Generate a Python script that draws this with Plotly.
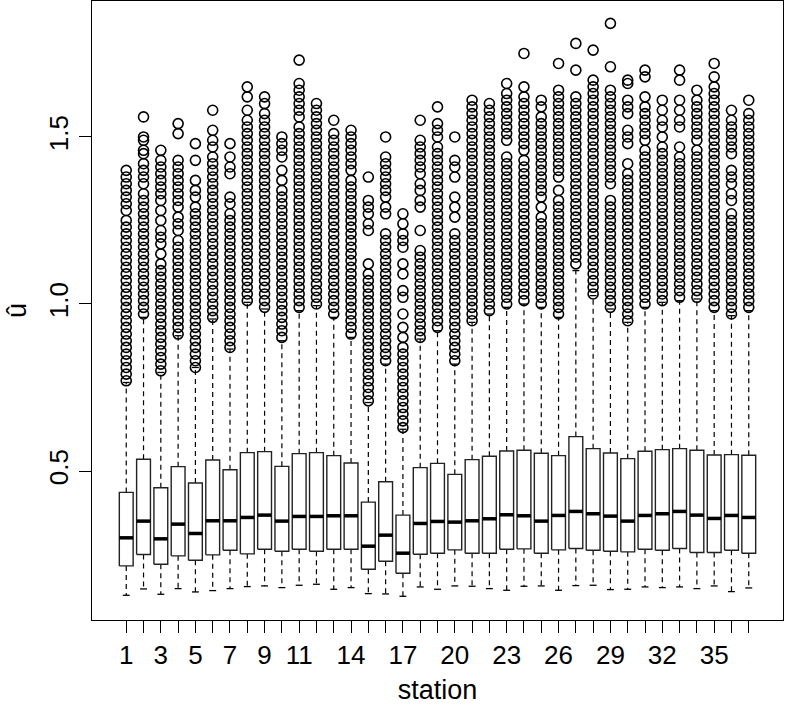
import plotly.graph_objects as go

stations = list(range(1, 38))
tick_labels = ["1", "", "3", "", "5", "", "7", "", "9", "", "11", "", "", "14", "", "", "17", "", "",
               "20", "", "", "23", "", "", "26", "", "", "29", "", "", "32", "", "", "35", "", ""]

q1 = [0.216, 0.250, 0.221, 0.246, 0.233, 0.249, 0.263, 0.252, 0.266, 0.260,
      0.266, 0.260, 0.266, 0.266, 0.206, 0.230, 0.194, 0.251, 0.254, 0.264,
      0.254, 0.254, 0.266, 0.267, 0.254, 0.264, 0.268, 0.263, 0.260, 0.258,
      0.266, 0.263, 0.268, 0.256, 0.256, 0.263, 0.254]
median = [0.300, 0.350, 0.297, 0.341, 0.313, 0.351, 0.351, 0.361, 0.368, 0.350,
          0.364, 0.364, 0.366, 0.366, 0.275, 0.308, 0.254, 0.343, 0.349, 0.347,
          0.351, 0.357, 0.369, 0.366, 0.350, 0.367, 0.379, 0.372, 0.365, 0.350,
          0.367, 0.372, 0.379, 0.368, 0.358, 0.367, 0.361]
q3 = [0.436, 0.535, 0.450, 0.513, 0.464, 0.533, 0.504, 0.555, 0.558, 0.514,
      0.552, 0.555, 0.546, 0.524, 0.407, 0.468, 0.368, 0.510, 0.523, 0.490,
      0.534, 0.544, 0.560, 0.562, 0.553, 0.546, 0.603, 0.567, 0.554, 0.537,
      0.559, 0.564, 0.567, 0.562, 0.548, 0.549, 0.547]
lower_whisker = [0.128, 0.147, 0.131, 0.148, 0.138, 0.142, 0.148, 0.154, 0.156, 0.151,
                 0.158, 0.161, 0.146, 0.151, 0.133, 0.132, 0.125, 0.153, 0.146, 0.156,
                 0.155, 0.148, 0.143, 0.155, 0.156, 0.143, 0.157, 0.158, 0.145, 0.146,
                 0.153, 0.151, 0.153, 0.148, 0.156, 0.139, 0.150]
upper_whisker = [0.765, 0.960, 0.795, 0.905, 0.810, 0.955, 0.865, 1.005, 0.985, 0.890,
                 0.980, 0.995, 0.960, 0.900, 0.705, 0.820, 0.625, 0.895, 0.920, 0.820,
                 0.945, 0.970, 0.990, 1.000, 0.990, 0.960, 1.100, 1.025, 0.985, 0.945,
                 0.990, 1.005, 1.010, 1.015, 0.980, 0.965, 0.980]

out01 = [0.77,0.79,0.81,0.83,0.85,0.87,0.89,0.91,0.93,0.95,0.97,0.99,1.01,1.03,1.05,1.07,1.09,1.11,1.13,1.15,1.17,1.19,1.21,1.23,1.25,1.28,1.30,1.32,1.34,1.36,1.38,1.40]
out02 = [0.97,0.99,1.01,1.03,1.05,1.07,1.09,1.11,1.13,1.15,1.17,1.19,1.21,1.23,1.25,1.27,1.29,1.31,1.33,1.36,1.38,1.40,1.42,1.45,1.46,1.49,1.50,1.56]
out03 = [0.80,0.82,0.84,0.86,0.88,0.90,0.92,0.94,0.96,0.98,1.00,1.02,1.04,1.06,1.08,1.10,1.12,1.15,1.18,1.20,1.22,1.25,1.28,1.31,1.33,1.35,1.37,1.39,1.41,1.43,1.46]
out04 = [0.91,0.93,0.95,0.97,0.99,1.01,1.03,1.05,1.07,1.09,1.11,1.13,1.15,1.17,1.19,1.22,1.24,1.26,1.29,1.31,1.33,1.35,1.37,1.39,1.41,1.43,1.51,1.54]
out05 = [0.81,0.83,0.85,0.87,0.89,0.91,0.93,0.95,0.97,0.99,1.01,1.03,1.05,1.07,1.09,1.11,1.13,1.15,1.17,1.19,1.21,1.23,1.25,1.27,1.29,1.32,1.34,1.37,1.43,1.48]
out06 = [0.96,0.98,1.00,1.02,1.04,1.06,1.08,1.10,1.12,1.14,1.16,1.18,1.20,1.22,1.24,1.26,1.28,1.30,1.32,1.34,1.36,1.38,1.40,1.42,1.44,1.47,1.49,1.52,1.58]
out07 = [0.87,0.89,0.91,0.93,0.95,0.97,0.99,1.01,1.03,1.05,1.07,1.09,1.11,1.13,1.15,1.17,1.19,1.21,1.23,1.25,1.27,1.30,1.32,1.39,1.41,1.44,1.48]
out08 = [1.01,1.03,1.05,1.07,1.09,1.11,1.13,1.15,1.17,1.19,1.21,1.23,1.25,1.27,1.29,1.31,1.33,1.35,1.37,1.39,1.41,1.43,1.45,1.47,1.49,1.51,1.53,1.55,1.58,1.62,1.65]
out09 = [0.99,1.01,1.03,1.05,1.07,1.09,1.11,1.13,1.15,1.17,1.19,1.21,1.23,1.25,1.27,1.29,1.31,1.33,1.35,1.37,1.39,1.41,1.43,1.45,1.47,1.49,1.51,1.53,1.55,1.57,1.60,1.62]
out10 = [0.90,0.92,0.94,0.96,0.98,1.00,1.02,1.04,1.06,1.08,1.10,1.12,1.14,1.16,1.18,1.20,1.22,1.24,1.26,1.28,1.30,1.32,1.34,1.37,1.40,1.44,1.46,1.48,1.50]
out11 = [0.99,1.01,1.03,1.05,1.07,1.09,1.11,1.13,1.15,1.17,1.19,1.21,1.23,1.25,1.27,1.29,1.31,1.33,1.35,1.37,1.39,1.41,1.43,1.45,1.47,1.49,1.51,1.53,1.56,1.58,1.60,1.62,1.64,1.66,1.73]
out12 = [1.00,1.02,1.04,1.06,1.08,1.10,1.12,1.14,1.16,1.18,1.20,1.22,1.24,1.26,1.28,1.30,1.32,1.34,1.36,1.38,1.40,1.42,1.44,1.46,1.48,1.50,1.52,1.54,1.56,1.58,1.60]
out13 = [0.97,0.99,1.01,1.03,1.05,1.07,1.09,1.11,1.13,1.15,1.17,1.19,1.21,1.23,1.25,1.27,1.29,1.31,1.33,1.35,1.37,1.39,1.41,1.43,1.45,1.47,1.49,1.51,1.55]
out14 = [0.91,0.93,0.95,0.97,0.99,1.01,1.03,1.05,1.07,1.09,1.11,1.13,1.15,1.17,1.19,1.21,1.23,1.25,1.27,1.29,1.31,1.33,1.35,1.37,1.40,1.42,1.44,1.46,1.48,1.50,1.52]
out15 = [0.71,0.73,0.75,0.77,0.79,0.81,0.83,0.85,0.87,0.89,0.91,0.93,0.95,0.97,0.99,1.01,1.03,1.05,1.07,1.09,1.12,1.22,1.24,1.27,1.29,1.31,1.38]
out16 = [0.83,0.85,0.87,0.89,0.91,0.93,0.95,0.97,0.99,1.01,1.03,1.05,1.07,1.09,1.11,1.13,1.15,1.17,1.19,1.21,1.27,1.29,1.32,1.34,1.36,1.38,1.40,1.42,1.44,1.50]
out17 = [0.63,0.65,0.67,0.69,0.71,0.73,0.75,0.77,0.79,0.81,0.83,0.85,0.87,0.90,0.93,0.97,1.02,1.04,1.09,1.12,1.17,1.19,1.21,1.24,1.27]
out18 = [0.90,0.92,0.94,0.96,0.98,1.00,1.02,1.04,1.06,1.08,1.10,1.12,1.14,1.16,1.22,1.29,1.31,1.34,1.36,1.39,1.41,1.43,1.45,1.47,1.49,1.55]
out19 = [0.93,0.95,0.97,0.99,1.01,1.03,1.05,1.07,1.09,1.11,1.13,1.15,1.17,1.19,1.21,1.23,1.25,1.27,1.29,1.31,1.33,1.35,1.37,1.39,1.41,1.43,1.45,1.47,1.50,1.52,1.54,1.59]
out20 = [0.83,0.85,0.87,0.89,0.91,0.93,0.95,0.97,0.99,1.01,1.03,1.05,1.07,1.09,1.11,1.13,1.15,1.17,1.19,1.21,1.26,1.29,1.32,1.38,1.41,1.43,1.50]
out21 = [0.95,0.97,0.99,1.01,1.03,1.05,1.07,1.09,1.11,1.13,1.15,1.17,1.19,1.21,1.23,1.25,1.27,1.29,1.31,1.33,1.35,1.37,1.39,1.41,1.43,1.45,1.47,1.49,1.51,1.53,1.55,1.57,1.59,1.61]
out22 = [0.98,1.00,1.02,1.04,1.06,1.08,1.10,1.12,1.14,1.16,1.18,1.20,1.22,1.24,1.26,1.28,1.30,1.32,1.34,1.36,1.38,1.40,1.42,1.44,1.46,1.48,1.50,1.52,1.54,1.56,1.58,1.60]
out23 = [1.00,1.02,1.04,1.06,1.08,1.10,1.12,1.14,1.16,1.18,1.20,1.22,1.24,1.26,1.28,1.30,1.32,1.34,1.36,1.38,1.40,1.42,1.44,1.49,1.51,1.53,1.55,1.57,1.59,1.61,1.63,1.66]
out24 = [1.01,1.03,1.05,1.07,1.09,1.11,1.13,1.15,1.17,1.19,1.21,1.23,1.25,1.27,1.29,1.31,1.33,1.35,1.37,1.39,1.41,1.43,1.46,1.48,1.50,1.52,1.54,1.56,1.58,1.60,1.62,1.65,1.75]
out25 = [1.00,1.02,1.04,1.06,1.08,1.10,1.12,1.14,1.16,1.18,1.20,1.22,1.24,1.26,1.29,1.32,1.34,1.36,1.38,1.40,1.42,1.44,1.46,1.48,1.50,1.52,1.54,1.56,1.59,1.61]
out26 = [0.97,0.99,1.01,1.03,1.05,1.07,1.09,1.11,1.13,1.15,1.17,1.19,1.21,1.23,1.25,1.27,1.29,1.31,1.34,1.38,1.40,1.42,1.44,1.46,1.48,1.50,1.52,1.54,1.56,1.58,1.60,1.62,1.64,1.72]
out27 = [1.12,1.14,1.16,1.18,1.20,1.22,1.24,1.26,1.28,1.30,1.32,1.34,1.36,1.38,1.40,1.42,1.44,1.46,1.48,1.50,1.52,1.54,1.56,1.58,1.60,1.62,1.70,1.78]
out28 = [1.03,1.05,1.07,1.09,1.11,1.13,1.15,1.17,1.19,1.21,1.23,1.25,1.27,1.29,1.31,1.33,1.35,1.37,1.39,1.41,1.43,1.45,1.47,1.49,1.51,1.53,1.55,1.57,1.59,1.61,1.63,1.65,1.67,1.76]
out29 = [0.99,1.01,1.03,1.05,1.07,1.09,1.11,1.13,1.15,1.17,1.19,1.21,1.23,1.25,1.27,1.29,1.31,1.36,1.38,1.40,1.42,1.44,1.46,1.48,1.50,1.52,1.54,1.56,1.58,1.60,1.62,1.64,1.71,1.84]
out30 = [0.95,0.97,0.99,1.01,1.03,1.05,1.07,1.09,1.11,1.13,1.15,1.17,1.19,1.21,1.23,1.25,1.27,1.29,1.31,1.33,1.35,1.37,1.39,1.42,1.48,1.50,1.52,1.57,1.59,1.61,1.66,1.67]
out31 = [1.00,1.02,1.04,1.06,1.08,1.10,1.12,1.14,1.16,1.18,1.20,1.22,1.24,1.26,1.28,1.30,1.32,1.34,1.36,1.38,1.40,1.42,1.44,1.46,1.49,1.51,1.53,1.55,1.57,1.59,1.62,1.68,1.70]
out32 = [1.01,1.03,1.05,1.07,1.09,1.11,1.13,1.15,1.17,1.19,1.21,1.23,1.25,1.27,1.29,1.31,1.33,1.35,1.37,1.39,1.41,1.43,1.45,1.47,1.50,1.53,1.55,1.58,1.61]
out33 = [1.02,1.04,1.06,1.08,1.10,1.12,1.14,1.16,1.18,1.20,1.22,1.24,1.26,1.28,1.30,1.32,1.34,1.36,1.38,1.40,1.42,1.44,1.47,1.53,1.55,1.58,1.61,1.67,1.70]
out34 = [1.02,1.04,1.06,1.08,1.10,1.12,1.14,1.16,1.18,1.20,1.22,1.24,1.26,1.28,1.30,1.32,1.34,1.36,1.38,1.40,1.42,1.44,1.46,1.49,1.51,1.53,1.55,1.57,1.59,1.61,1.64]
out35 = [0.99,1.01,1.03,1.05,1.07,1.09,1.11,1.13,1.15,1.17,1.19,1.21,1.23,1.25,1.27,1.29,1.31,1.33,1.35,1.37,1.39,1.41,1.43,1.45,1.47,1.49,1.51,1.53,1.55,1.57,1.59,1.61,1.63,1.65,1.68,1.72]
out36 = [0.97,0.99,1.01,1.03,1.05,1.07,1.09,1.11,1.13,1.15,1.17,1.19,1.21,1.23,1.25,1.27,1.31,1.33,1.36,1.38,1.40,1.45,1.47,1.49,1.51,1.53,1.55,1.58]
out37 = [0.99,1.01,1.03,1.05,1.07,1.09,1.11,1.13,1.15,1.17,1.19,1.21,1.23,1.25,1.27,1.29,1.31,1.33,1.35,1.37,1.39,1.41,1.43,1.45,1.47,1.49,1.51,1.53,1.55,1.57,1.61]

outliers = [out01, out02, out03, out04, out05, out06, out07, out08, out09, out10,
            out11, out12, out13, out14, out15, out16, out17, out18, out19, out20,
            out21, out22, out23, out24, out25, out26, out27, out28, out29, out30,
            out31, out32, out33, out34, out35, out36, out37]

HALF = 0.4      # half box width (boxwex 0.8)
STAPLE = 0.2    # half staple width

bx, by, wx, wy, sx, sy, mx, my = [], [], [], [], [], [], [], []
for s, a, m, b, lo, hi in zip(stations, q1, median, q3, lower_whisker, upper_whisker):
    bx += [s - HALF, s + HALF, s + HALF, s - HALF, s - HALF, None]
    by += [a, a, b, b, a, None]
    wx += [s, s, None, s, s, None]
    wy += [b, hi, None, a, lo, None]
    sx += [s - STAPLE, s + STAPLE, None, s - STAPLE, s + STAPLE, None]
    sy += [hi, hi, None, lo, lo, None]
    mx += [s - HALF, s + HALF, None]
    my += [m, m, None]

ox, oy = [], []
for s, vals in zip(stations, outliers):
    ox += [s] * len(vals)
    oy += vals

fig = go.Figure()
fig.add_trace(go.Scatter(x=wx, y=wy, mode="lines",
                         line=dict(color="black", width=1.2, dash="5px,4px"), hoverinfo="skip"))
fig.add_trace(go.Scatter(x=sx, y=sy, mode="lines",
                         line=dict(color="black", width=1.3), hoverinfo="skip"))
fig.add_trace(go.Scatter(x=bx, y=by, mode="lines", fill="toself", fillcolor="white",
                         line=dict(color="#222222", width=1.4), hoverinfo="skip"))
fig.add_trace(go.Scatter(x=mx, y=my, mode="lines",
                         line=dict(color="black", width=3.5), hoverinfo="skip"))
fig.add_trace(go.Scatter(x=ox, y=oy, mode="markers",
                         marker=dict(symbol="circle-open", size=10, color="black",
                                     line=dict(width=1.6, color="black"))))

fig.update_layout(
    width=786, height=708,
    margin=dict(l=92, r=3, t=1, b=88),
    plot_bgcolor="white", paper_bgcolor="white",
    showlegend=False,
    font=dict(family="Liberation Sans, Arial, sans-serif", size=26, color="black"),
)
fig.update_xaxes(
    range=[-0.98, 38.98], tickmode="array", tickvals=stations, ticktext=tick_labels,
    ticks="outside", ticklen=12, tickwidth=1.2, tickcolor="black",
    showline=True, linecolor="black", linewidth=1.3, mirror=True,
    showgrid=False, zeroline=False, automargin=False,
    tickfont=dict(size=26),
    title=dict(text="station", standoff=10, font=dict(size=27)),
)
fig.update_yaxes(
    range=[0.054, 1.907], tickmode="array", tickvals=[0.5, 1.0, 1.5],
    ticktext=["0.5", "1.0", "1.5"], tickangle=-90,
    ticks="outside", ticklen=12, tickwidth=1.2, tickcolor="black",
    showline=True, linecolor="black", linewidth=1.3, mirror=True,
    showgrid=False, zeroline=False, automargin=False,
    tickfont=dict(size=26),
    title=dict(text="û", standoff=10, font=dict(size=27)),
)

fig.write_html("out.html", config={"displayModeBar": False},
               post_script="document.body.style.margin='0';document.body.style.padding='0';")
